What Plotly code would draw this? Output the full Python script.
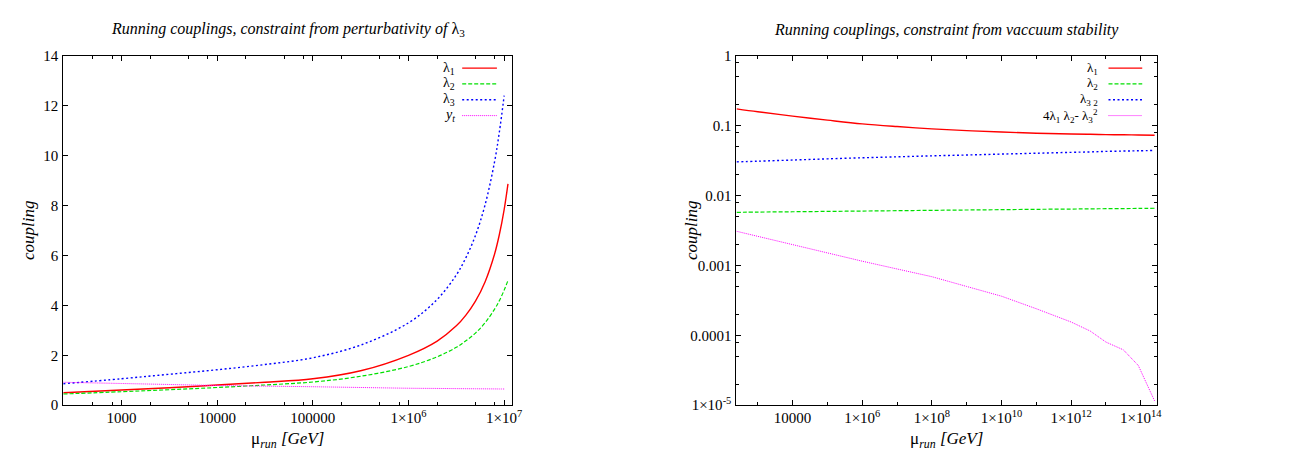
import plotly.graph_objects as go

W, H = 1305, 458

# ---------------- data ----------------
mu_left = [246, 1000, 3162, 10000, 31623, 100000, 316228, 1000000, 1995262,
           3162278, 3981072, 5011872, 6309573, 7943282, 8912509, 10000000, 10964782]
lam1_left = [0.50, 0.61, 0.70, 0.81, 0.92, 1.06, 1.38, 2.00, 2.57, 3.18, 3.61,
             4.17, 4.94, 6.06, 6.84, 7.84, 8.87]
lam2_left = [0.45, 0.54, 0.62, 0.71, 0.81, 0.93, 1.16, 1.55, 1.94, 2.32, 2.58,
             2.89, 3.30, 3.85, 4.19, 4.61, 5.00]
lam3_left = [0.86, 1.06, 1.24, 1.42, 1.63, 1.90, 2.41, 3.30, 4.24, 5.22, 5.91,
             6.80, 8.02, 9.76, 10.95, 12.40, None]
yt_left = [0.92, 0.87, 0.83, 0.79, 0.765, 0.74, 0.71, 0.68, 0.672, 0.665, 0.662,
           0.659, 0.656, 0.653, 0.651, 0.650, None]

mu_right = [246, 1e3, 1e4, 1e5, 1e6, 1e7, 1e8, 1e9, 1e10, 1e11, 1e12, 3.55e12,
            1e13, 3.16e13, 8.5e13, 2.5e14]
lam1_right = [0.174, 0.158, 0.137, 0.120, 0.106, 0.097, 0.090, 0.085, 0.081,
              0.078, 0.076, 0.0752, 0.0745, 0.0740, 0.0735, 0.0730]
lam2_right = [0.00575, 0.00580, 0.00586, 0.00593, 0.00600, 0.00607, 0.00614,
              0.00621, 0.00628, 0.00635, 0.00641, 0.00645, 0.00648, 0.00651,
              0.00654, 0.00658]
lam3_right = [0.0303, 0.0310, 0.0322, 0.0335, 0.0347, 0.0358, 0.0370, 0.0380,
              0.0392, 0.0403, 0.0415, 0.0421, 0.0428, 0.0433, 0.0437, 0.0442]
disc_right = [0.00308, 0.0026, 0.0020, 0.00151, 0.00115, 0.00089, 0.00069,
              0.00050, 0.000363, 0.00024, 0.000155, 0.000115, 8.0e-5, 6.2e-5,
              3.7e-5, 1.15e-5]

left_xticks = [1e3, 1e4, 1e5, 1e6, 1e7]
left_xticktext = ["1000", "10000", "100000", "1×10<sup>6</sup>", "1×10<sup>7</sup>"]
right_xticks = [1e4, 1e6, 1e8, 1e10, 1e12, 1e14]
right_xticktext = ["10000", "1×10<sup>6</sup>", "1×10<sup>8</sup>", "1×10<sup>10</sup>",
                   "1×10<sup>12</sup>", "1×10<sup>14</sup>"]
right_yticks = [1e-5, 1e-4, 1e-3, 1e-2, 1e-1, 1]
right_yticktext = ["1×10<sup>-5</sup>", "0.0001", "0.001", "0.01", "0.1", "1"]

left_legend = ["λ<sub>1</sub>", "λ<sub>2</sub>", "λ<sub>3</sub>", "<i>y<sub>t</sub></i>"]
right_legend = ["λ<sub>1</sub>", "λ<sub>2</sub>", "λ<sub>3</sub><sub> 2</sub>",
                "4λ<sub>1</sub> λ<sub>2</sub>- λ<sub>3</sub><sup>2</sup>"]

# ---------------- styles ----------------
FONT = "Liberation Serif"
RED, GREEN, BLUE, MAG = "#ff0000", "#00e000", "#0000ff", "#ff00ff"
styles = [
    dict(color=RED, width=1.4, dash="solid"),
    dict(color=GREEN, width=1.2, dash="4px,2px"),
    dict(color=BLUE, width=1.4, dash="2px,2.5px"),
    dict(color=MAG, width=1.0, dash="1px,1px"),
]


def px(x):
    return x / W


def py(y):
    return 1 - y / H


L_dom = [px(55.7), px(507.7)]
R_dom = [px(734), px(1158)]
Y_dom = [py(403.3), py(41.2)]

fig = go.Figure()

for ys, st in zip([lam1_left, lam2_left, lam3_left, yt_left], styles):
    fig.add_trace(go.Scatter(x=mu_left, y=ys, mode="lines", line=dict(**st, shape="spline"),
                             xaxis="x", yaxis="y", showlegend=False, connectgaps=False))

for ys, st, sh in zip([lam1_right, lam2_right, lam3_right, disc_right], styles,
                      ["spline", "spline", "spline", "linear"]):
    fig.add_trace(go.Scatter(x=mu_right, y=ys, mode="lines", line=dict(**st, shape=sh),
                             xaxis="x2", yaxis="y2", showlegend=False))

axis_common = dict(showline=True, linecolor="black", linewidth=1, mirror="allticks",
                   ticks="inside", ticklen=5, tickcolor="black", tickwidth=1,
                   showgrid=False, zeroline=False,
                   tickfont=dict(family=FONT, size=15, color="black"))


def minor_vals(lo, hi, mults):
    return [m * 10 ** k for k in range(lo, hi) for m in mults]


fig.update_layout(
    width=W, height=H, margin=dict(l=0, r=0, t=0, b=0, pad=0),
    paper_bgcolor="white", plot_bgcolor="white",
    xaxis=dict(axis_common, type="log", domain=L_dom, anchor="y",
               range=[2.391, 7.08], tickmode="array", tickvals=left_xticks,
               ticktext=left_xticktext, ticklabelstandoff=-1,
               minor=dict(tickmode="array", tickvals=minor_vals(2, 8, [2, 5, 8]),
                          ticks="inside", ticklen=3, tickcolor="black", showgrid=False)),
    yaxis=dict(axis_common, domain=Y_dom, anchor="x", range=[0, 14], dtick=2,
               tick0=0, ticklabelstandoff=1),
    xaxis2=dict(axis_common, type="log", domain=R_dom, anchor="y2",
                range=[2.385, 14.47], tickmode="array", tickvals=right_xticks,
                ticktext=right_xticktext, ticklabelstandoff=-1,
                minor=dict(tickmode="array", tickvals=[10 ** k for k in range(3, 15, 2)],
                           ticks="inside", ticklen=3, tickcolor="black", showgrid=False)),
    yaxis2=dict(axis_common, type="log", domain=Y_dom, anchor="x2", range=[-5, 0],
                tickmode="array", tickvals=right_yticks, ticktext=right_yticktext,
                ticklabelstandoff=1,
                minor=dict(tickmode="array", tickvals=minor_vals(-5, 0, [2, 5, 8]),
                           ticks="inside", ticklen=3, tickcolor="black", showgrid=False)),
)

ann = []
tfont = dict(family=FONT, size=16, color="black")
ann.append(dict(x=px(282), y=py(14), xref="paper", yref="paper", showarrow=False,
                text="<i>Running couplings, constraint from perturbativity of </i>λ<sub>3</sub>",
                font=tfont, xanchor="center", yanchor="middle"))
ann.append(dict(x=px(946), y=py(14), xref="paper", yref="paper", showarrow=False,
                text="<i>Running couplings, constraint from vaccuum stability</i>",
                font=tfont, xanchor="center", yanchor="middle"))
afont = dict(family=FONT, size=17, color="black")
for cx in (282, 946):
    ann.append(dict(x=px(cx), y=py(439), xref="paper", yref="paper", showarrow=False,
                    text="μ<sub><i>run</i></sub><i> [GeV]</i>", font=afont,
                    xanchor="center", yanchor="middle"))
for cx in (20, 689):
    ann.append(dict(x=px(cx), y=py(222), xref="paper", yref="paper", showarrow=False,
                    text="<i>coupling</i>", font=afont, textangle=-90,
                    xanchor="center", yanchor="middle"))

shapes = []
for labels, x_text, x0, x1, fs in [(left_legend, 451, 457.7, 492.7, 14),
                                   (right_legend, 1099, 1109, 1143, 13)]:
    for i, (lab, st) in enumerate(zip(labels, styles)):
        yy = 54 + 16.4 * i
        ann.append(dict(x=px(x_text), y=py(yy), xref="paper", yref="paper",
                        showarrow=False, text=lab,
                        font=dict(family=FONT, size=fs, color="black"),
                        xanchor="right", yanchor="middle", borderpad=0))
        shapes.append(dict(type="line", xref="paper", yref="paper",
                           x0=px(x0), x1=px(x1), y0=py(yy), y1=py(yy),
                           line=dict(color=st["color"], width=st["width"], dash=st["dash"])))

fig.update_layout(annotations=ann, shapes=shapes)

fig.write_html("out.html")
